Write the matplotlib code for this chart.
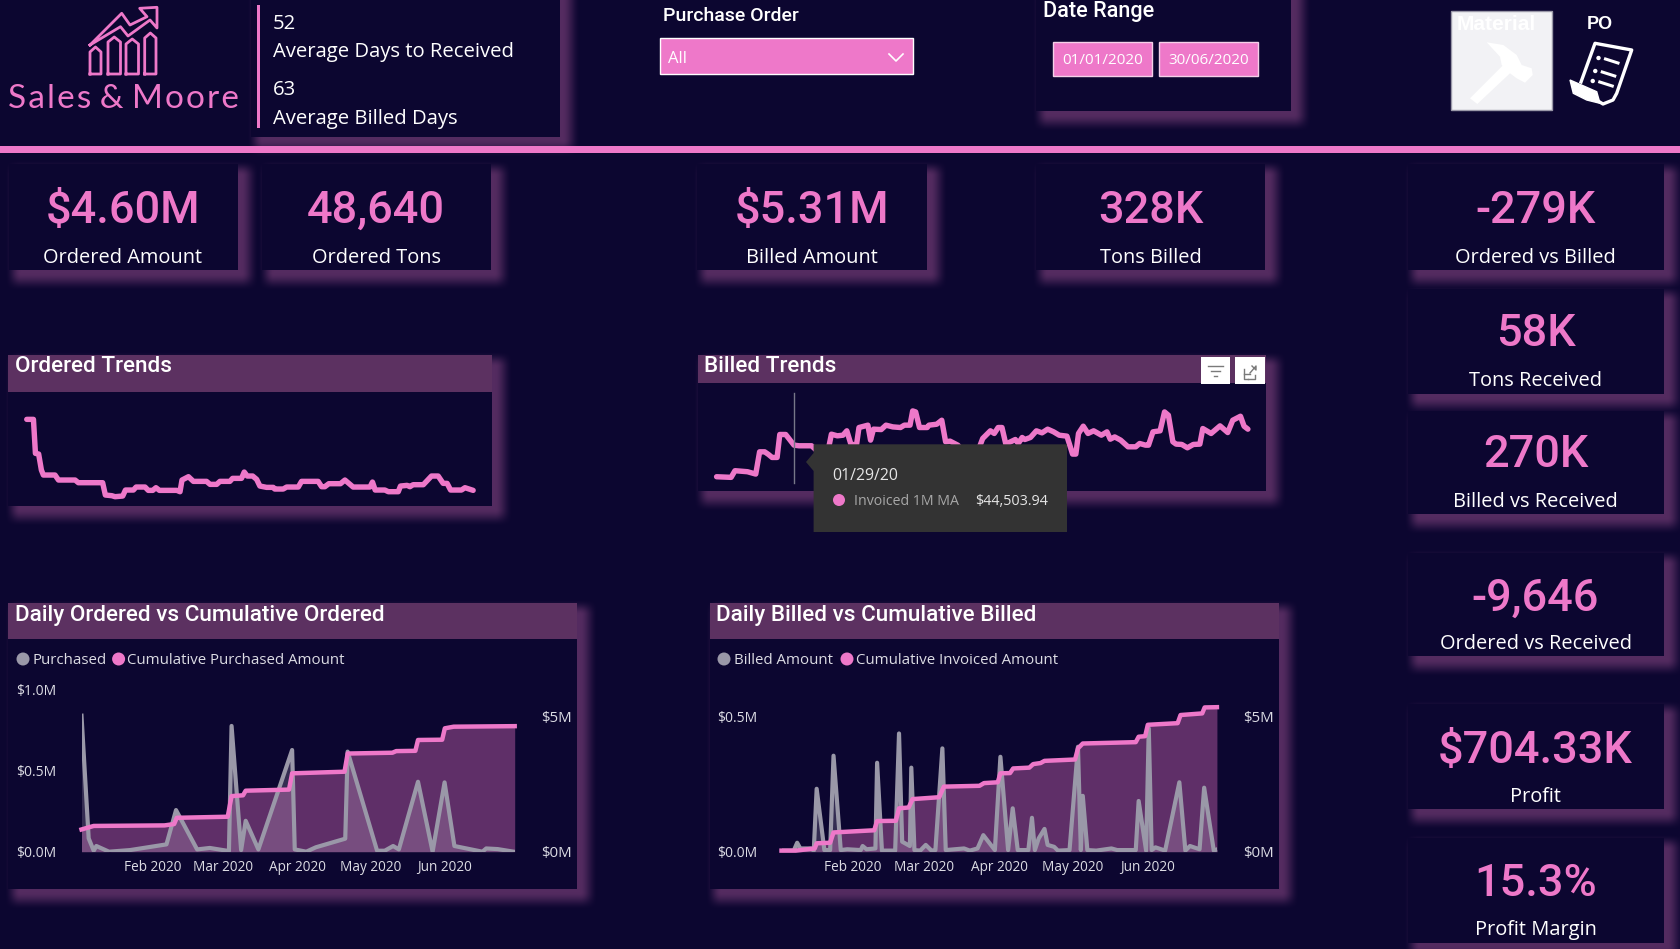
import numpy as np
import matplotlib
matplotlib.use("Agg")
import matplotlib.pyplot as plt
from matplotlib.patches import Polygon, Rectangle, Circle

W, H = 1680, 949
BG = "#0c0630"
PINK = "#ee78c9"
GREY = "#9a98a8"
BAR = "#5c3161"
SHADOW = np.array([0x54, 0x2b, 0x60]) / 255
HEAD_FONT = "Roboto"
BODY_FONT = "Open Sans"

# kpi cards
kpi_values = ["$4.60M", "48,640", "$5.31M", "328K", "-279K", "58K", "270K", "-9,646", "$704.33K", "15.3%"]
kpi_labels = ["Ordered Amount", "Ordered Tons", "Billed Amount", "Tons Billed", "Ordered vs Billed",
              "Tons Received", "Billed vs Received", "Ordered vs Received", "Profit", "Profit Margin"]

# 1M moving averages, $K by day of the period
ordered_ma_days = [0, 2.7, 3.5, 4.8, 5.9, 6.7, 11.4, 12.8, 19.5, 20.8, 30.6, 31.7, 34.3, 35.6, 38.7, 39.8, 43, 44.1,
                   47.7, 49, 50.8, 52.1, 53.5, 60.5, 61.8, 62.6, 65.2, 67.2, 72.5, 73.9, 76.6, 77.9, 81.9, 83, 86.6,
                   87.7, 88.9, 91.1, 92.7, 94, 96.7, 99.4, 100, 103.4, 104.8, 109.5, 110.8, 117.5, 118.9, 120.2,
                   121.8, 126.5, 128.3, 131.6, 138.4, 139.4, 140.5, 144.4, 145.8, 149.8, 150.7, 153.4, 154.5, 155.8,
                   159.9, 163.2, 165.9, 167.9, 169.5, 170.9, 175.3, 176.7, 180]
ordered_ma = [64.25, 64.25, 38.75, 38.25, 26.25, 22.5, 22.5, 18.75, 18.75, 16.75, 16.75, 7.5, 7, 6.25, 6.75, 11.25,
              11.25, 13.5, 13.5, 11, 11, 13, 11, 11, 10, 18.75, 21.25, 17.75, 17.75, 15.5, 15.5, 17.75, 17.75, 20,
              20, 24.75, 21.75, 21.75, 19.25, 14.25, 13.25, 13.25, 12, 12, 13.5, 13.5, 17.75, 17.75, 13.75, 13.75,
              16, 16, 18.75, 13.5, 13.5, 17.25, 11.25, 11.25, 10, 10, 14.25, 14.75, 13.75, 15.25, 15.25, 21.75,
              21.75, 16.25, 16.25, 11.25, 11.25, 13, 11]

billed_ma_days = [1.9, 6.8, 8.1, 12.3, 15.1, 16.4, 18.1, 19.4, 20.6, 22.3, 23.2, 25.2, 28, 29.7, 33.9, 35.5, 39.4,
                  40.6, 42.6, 44.5, 45.8, 47.1, 49, 49.9, 52.9, 53.8, 54.8, 57.4, 59, 61.3, 63.9, 65.2, 67.1, 68, 69,
                  70.3, 72.9, 73.5, 76.1, 77.8, 79.1, 80.6, 83.2, 85.8, 89.7, 91.6, 94.2, 95.5, 96.8, 98.1, 99.4,
                  102.6, 103.6, 104.9, 105.8, 107.7, 109.7, 111.6, 113.5, 115.5, 117.4, 120, 121.9, 123, 123.9, 125.5,
                  127.1, 129, 131.6, 133.5, 134.6, 136.1, 138.1, 140.6, 143.2, 144.5, 146.5, 147.5, 149, 151.4, 152.9,
                  154.2, 155.7, 156.8, 158.7, 160.6, 162.6, 164.8, 165.8, 168.6, 171.6, 174.2, 175.9, 178.5, 179.7, 181]
billed_ma = [4.2, 3.4, 11.9, 10.6, 7.6, 36, 36, 32.6, 28.8, 28.8, 58.1, 58.1, 44.5, 43.7, 43.7, 38.2, 36, 58.5, 56.4,
             57.2, 62.8, 46.6, 43.2, 67, 70, 50.9, 64.9, 64.4, 70, 67.8, 67, 70, 70, 88.2, 86.9, 67, 67, 70, 71.2,
             76.3, 48.8, 49.6, 44.5, 33.9, 33.9, 53, 62.8, 59.4, 67, 67, 45.8, 51.7, 46.6, 54.3, 51.7, 54.3, 62.8,
             60.2, 64.9, 61.5, 57.2, 56, 33.1, 33.1, 59.4, 68.7, 59.4, 62.8, 57.2, 61.5, 52.1, 55, 50.9, 42.4, 42.4,
             46.6, 44.5, 44.5, 61.5, 62.8, 86.9, 82.7, 48.8, 45.8, 45.4, 41.1, 45.4, 45.8, 65.7, 59.4, 69.1, 60.6,
             76.3, 81.4, 68.7, 64.9]
tooltip_day = 28

# daily and cumulative, $M by day of the period
month_ticks = [29.6, 59, 90.4, 120.8, 151.8]
month_labels = ["Feb 2020", "Mar 2020", "Apr 2020", "May 2020", "Jun 2020"]

purchased_days = [0, 3, 5.1, 6.2, 11.5, 20.3, 35.5, 39.5, 48.3, 53.6, 61.6, 62.7, 66.7, 68.6, 73.9, 88, 89.1, 93.9,
                  97.9, 110.2, 111.2, 123.5, 126.7, 130.2, 132.6, 140.6, 146.7, 151.7, 155.8, 167.5, 169.1, 173.9, 180.6]
purchased = [0.836, 0.082, 0.006, 0.035, 0, 0.01, 0.045, 0.256, 0.014, 0.023, 0.004, 0.773, 0.01, 0.19, 0.014, 0.625,
             0.014, 0, 0.027, 0.08, 0.615, 0.006, 0.006, 0.035, 0.014, 0.43, 0, 0.426, 0.035, 0, 0.02, 0.016, 0]
cum_purchased_days = [0, 5.1, 34.7, 38.7, 39.8, 61.1, 62.7, 67.5, 68.6, 86.7, 88, 109.9, 111.2, 129.9, 131.5, 139.5,
                      140.6, 150.7, 151.8, 155.5, 181]
cum_purchased = [0.82, 0.95, 0.97, 1.02, 1.25, 1.29, 2.05, 2.08, 2.25, 2.29, 2.89, 2.95, 3.62, 3.65, 3.71, 3.72, 4.12,
                 4.13, 4.55, 4.61, 4.63]

billed_days = [0, 5.1, 6.5, 7.8, 12.2, 13.4, 14.6, 17.8, 20.2, 21.6, 24.6, 27.3, 32.9, 33.7, 35.3, 39, 39.7, 41.7,
               47.2, 48.8, 50.1, 53.3, 53.9, 55.2, 57.6, 59.9, 62.3, 63.9, 66.8, 68.2, 75.8, 78.2, 81.4, 83.8, 88.6,
               90.9, 94.1, 96, 98.1, 102.5, 104, 105.2, 106.8, 109.2, 110.5, 113.2, 114.8, 119.6, 123.1, 124.3, 125.1,
               127, 130.7, 137, 139.4, 147.1, 148.3, 151.4, 152.5, 153.7, 155.3, 159.3, 165.2, 167.7, 169.6, 173.6,
               175.5, 179.5, 181]
billed = [0.004, 0.004, 0.033, 0.012, 0.012, 0.004, 0.232, 0.006, 0.006, 0.354, 0.006, 0.009, 0.006, 0.021, 0.009,
          0.012, 0.328, 0.004, 0.004, 0.436, 0.037, 0.021, 0.31, 0.006, 0.004, 0.025, 0.004, 0.006, 0.381, 0.006,
          0.012, 0.004, 0.012, 0.061, 0.006, 0.35, 0.006, 0.16, 0.006, 0.006, 0.125, 0.006, 0.049, 0.084, 0.025,
          0.018, 0.004, 0.006, 0.387, 0.006, 0.206, 0.006, 0.004, 0.012, 0.006, 0.006, 0.187, 0.004, 0.455, 0.006,
          0.016, 0.004, 0.256, 0.004, 0.021, 0.009, 0.236, 0.004, 0.009]
cum_billed_days = [0, 5.9, 13.8, 14.6, 20.2, 21.6, 38.5, 39.7, 47.5, 48.8, 52.8, 54.4, 65.5, 67.4, 82.2, 84.1, 89.8,
                   90.9, 94.9, 96.2, 102.9, 104.5, 107.6, 109.2, 121.9, 123.1, 125.1, 147.1, 148.3, 151, 152.1, 164.5,
                   165.7, 174.7, 175.7, 180.8]
cum_billed = [0.04, 0.04, 0.12, 0.31, 0.33, 0.71, 0.79, 1.13, 1.14, 1.6, 1.63, 1.94, 2.01, 2.4, 2.43, 2.53, 2.56, 2.89,
              2.9, 3.07, 3.1, 3.23, 3.27, 3.35, 3.4, 3.81, 3.99, 4.04, 4.24, 4.26, 4.68, 4.74, 5.04, 5.1, 5.32, 5.33]


def px_axes(fig, x0, y0, x1, y1, zorder):
    ax = fig.add_axes([x0 / W, 1 - y1 / H, (x1 - x0) / W, (y1 - y0) / H], zorder=zorder)
    ax.patch.set_alpha(0)
    for s in ax.spines.values():
        s.set_visible(False)
    return ax


def soft(t):
    t = np.clip(t, 0, 1)
    return t * t * (3 - 2 * t)


def shadow_layer(rects):
    xx = np.arange(W) + 0.5
    yy = np.arange(H) + 0.5
    cover = np.zeros((H, W))
    for x0, y0, x1, y1 in rects:
        cx = soft((xx - x0 + 4) / 16) * soft(((x1 + 21) - xx) / 18)
        cy = soft((yy - y0 + 4) / 16) * soft(((y1 + 21) - yy) / 18)
        cover = np.maximum(cover, np.outer(cy, cx))
    bg = np.array(matplotlib.colors.to_rgb(BG))
    return bg + (SHADOW - bg) * cover[..., None]


def trend_chart(fig, x0, y0, x1, y1, xlim, ylim, days, values):
    ax = px_axes(fig, x0, y0, x1, y1, 3)
    ax.plot(days, values, color=PINK, lw=3.9, solid_joinstyle="round", solid_capstyle="round")
    ax.set_xlim(*xlim)
    ax.set_ylim(*ylim)
    ax.set_xticks([])
    ax.set_yticks([])
    return ax


def combo_chart(fig, x0, x1, daily_days, daily, cum_days, cum, left_max, left_ticks, left_labels, left_pad, right_pad):
    y0, y1 = 689, 851.7
    ax_fill = px_axes(fig, x0, y0, x1, y1, 2)
    ax_daily = px_axes(fig, x0, y0, x1, y1, 3)
    ax_cum = px_axes(fig, x0, y0, x1, y1, 4)
    ax_fill.fill_between(cum_days, cum, 0, color=PINK, alpha=0.37, lw=0)
    ax_daily.fill_between(daily_days, daily, 0, color="#d8c8dc", alpha=0.2, lw=0)
    ax_daily.plot(daily_days, daily, color=GREY, lw=3, solid_joinstyle="round")
    ax_cum.plot(cum_days, cum, color=PINK, lw=3.2, solid_joinstyle="round", clip_on=False)
    for ax in (ax_fill, ax_daily, ax_cum):
        ax.set_xlim(0, 181)
    ax_fill.set_ylim(0, 6)
    ax_cum.set_ylim(0, 6)
    ax_daily.set_ylim(0, left_max)
    ax_fill.set_xticks([])
    ax_fill.set_yticks([])
    ax_cum.set_xticks([])

    ax_daily.set_xticks(month_ticks, month_labels)
    ax_daily.set_yticks(left_ticks, left_labels)
    ax_daily.tick_params(axis="x", length=0, pad=6, labelsize=9.8, labelcolor="#dcdce4")
    ax_daily.tick_params(axis="y", length=0, pad=left_pad, labelsize=10, labelcolor="#dcdce4")
    for t in ax_daily.get_yticklabels() + ax_daily.get_xticklabels():
        t.set_fontfamily(BODY_FONT)
    for t in ax_daily.get_yticklabels():
        t.set_ha("left")

    ax_cum.yaxis.tick_right()
    ax_cum.set_yticks([0, 5], ["$0M", "$5M"])
    ax_cum.tick_params(axis="y", length=0, pad=right_pad, labelsize=10.8, labelcolor="#dcdce4")
    for t in ax_cum.get_yticklabels():
        t.set_fontfamily(BODY_FONT)


def main():
    fig = plt.figure(figsize=(W / 100, H / 100), dpi=100, facecolor=BG)
    bg = fig.add_axes([0, 0, 1, 1], zorder=1)
    bg.set_xlim(0, W)
    bg.set_ylim(H, 0)
    bg.axis("off")

    # cards: left, top, right, bottom
    info_card = (251, -20, 559.5, 136.7)
    date_card = (1036, -20, 1291, 111)
    kpi_cards = [(9, 164, 238, 270), (262, 164, 491, 270), (697, 164, 927, 270), (1036, 164, 1265, 270),
                 (1408, 164, 1664, 270), (1408, 289, 1664, 394), (1408, 411, 1664, 514),
                 (1408, 553, 1664, 656), (1408, 704, 1664, 809), (1408, 838, 1664, 943)]
    ordered_panel = (8.4, 355, 492, 505.7)
    billed_panel = (697.6, 355, 1266, 491)
    combo_panels = [(8.4, 603, 577, 889), (709.5, 603, 1278.5, 889)]
    panels = [ordered_panel, billed_panel] + combo_panels
    rects = [info_card, date_card] + kpi_cards + panels

    bg.imshow(shadow_layer(rects), extent=(0, W, H, 0), aspect="auto", zorder=0)
    bg.set_xlim(0, W)
    bg.set_ylim(H, 0)
    for x0, y0, x1, y1 in rects:
        bg.add_patch(Rectangle((x0, y0), x1 - x0, y1 - y0, fc=BG, ec="none", zorder=1))

    # title bars
    bars = [(8.4, 355, 492, 391.7), (697.6, 355, 1266, 383), (8.4, 603, 577, 639), (709.5, 603, 1278.5, 639)]
    for x0, y0, x1, y1 in bars:
        bg.add_patch(Rectangle((x0, y0), x1 - x0, y1 - y0, fc=BAR, ec="none", zorder=2))
    head = dict(color="white", family=HEAD_FONT, weight="medium", fontsize=16.2, va="center", zorder=3)
    bg.text(15, 366.5, "Ordered Trends", **head)
    bg.text(704.5, 366.5, "Billed Trends", **head)
    bg.text(15, 615, "Daily Ordered vs Cumulative Ordered", **head)
    bg.text(716.5, 615, "Daily Billed vs Cumulative Billed", **head)

    # header rule
    bg.add_patch(Rectangle((0, 146), W, 7, fc=PINK, ec="none", zorder=4))

    # logo
    bar_tops = [(90, 101, 47), (108, 120.5, 37), (126, 138.5, 39), (144.7, 156, 33)]
    for x0, x1, top in bar_tops:
        xs = [x0, x0, (x0 + x1) / 2, x1, x1, x0]
        ys = [74, top + 5, top, top + 5, 74, 74]
        bg.plot(xs, ys, color=PINK, lw=2, zorder=3)
    arrow_x = [90, 121.7, 130, 147, 139.7, 157, 157, 150, 128, 120.5, 90]
    arrow_y = [45, 13.3, 25, 16.7, 8.3, 7.3, 28, 20, 36, 26.7, 45]
    bg.plot(arrow_x, arrow_y, color=PINK, lw=2, zorder=3)
    bg.text(123.5, 99, "\u200a".join("Sales") + " & " + "\u200a".join("Moore"),
            color=PINK, family="Lato", fontsize=24, ha="center", va="center", zorder=3)

    # info card
    bg.add_patch(Rectangle((257.3, 5), 2.2, 123, fc=PINK, ec="none", zorder=3))
    info = dict(color="white", family=BODY_FONT, va="center", fontsize=14.6, zorder=3)
    bg.text(273, 23.5, "52", **info)
    bg.text(273, 52, "Average Days to Received", **info)
    bg.text(273, 90, "63", **info)
    bg.text(273, 118.5, "Average Billed Days", **info)

    # slicers
    bg.text(663, 16, "Purchase Order", color="white", family=HEAD_FONT, weight="medium", fontsize=14, va="center", zorder=3)
    bg.add_patch(Rectangle((660, 37.5), 253, 36.5, fc=PINK, ec="white", lw=1, zorder=3))
    bg.text(667.5, 59, "All", color="white", family=BODY_FONT, fontsize=12, va="center", zorder=4)
    bg.plot([889, 896, 903], [54, 61, 54], color="white", lw=1.2, zorder=4)
    bg.text(1043, 11, "Date Range", color="white", family=HEAD_FONT, weight="medium", fontsize=15.6, va="center", zorder=3)
    for x0, label in [(1053, "01/01/2020"), (1159, "30/06/2020")]:
        bg.add_patch(Rectangle((x0, 42), 99, 34, fc=PINK, ec="#f3d0e8", lw=1, zorder=3))
        bg.text(x0 + 49.5, 60.5, label, color="white", family=BODY_FONT, fontsize=11,
                ha="center", va="center", zorder=4)

    # material button and PO icon
    bg.add_patch(Rectangle((1451, 11), 100.7, 99, fc="#f2f2f5", ec="#9a98a8", lw=1, zorder=3))
    bg.text(1496, 24, "Material", color="white", family="Liberation Sans", weight="bold", fontsize=15,
            ha="center", va="center", zorder=4)
    handle = [(1470, 98.3), (1477.3, 104), (1511.7, 71.7), (1503.3, 65)]
    hammer = [(1486.7, 42.3), (1503.3, 45), (1516.7, 55), (1521.7, 65), (1531.7, 68.3), (1532.7, 75), (1525, 82.7),
              (1516.7, 78.3), (1510, 73.3), (1501.7, 65), (1500, 56.7)]
    bg.add_patch(Polygon(handle, fc="white", ec="none", zorder=4))
    bg.add_patch(Polygon(hammer, fc="white", ec="none", zorder=4))
    bg.text(1600, 24, "PO", color="white", family="Liberation Sans", weight="bold", fontsize=13,
            ha="center", va="center", zorder=4)
    paper_x = [1581, 1595, 1631.7, 1616.7, 1613, 1603, 1598]
    paper_y = [82, 43.3, 50, 93.3, 100, 104, 101]
    bg.plot(paper_x, paper_y, color="white", lw=2.4, solid_joinstyle="round", zorder=4)
    fold = [(1570, 80), (1596.7, 91.7), (1600, 103.3), (1586.7, 100), (1573.3, 93.3)]
    bg.add_patch(Polygon(fold, fc="white", ec="white", lw=1, zorder=4))
    for y in (58, 71, 81):
        bg.add_patch(Circle((1598.5 - (y - 58) * 0.25, y), 2.2, fc="white", ec="none", zorder=4))
        bg.plot([1605.5 - (y - 58) * 0.25, 1618 - (y - 58) * 0.25], [y + 1, y + 5], color="white", lw=2.2, zorder=4)

    # kpi text
    kpi_centers = [123, 376, 812, 1151, 1535.5, 1535.5, 1535.5, 1535.5, 1535.5, 1535.5]
    value_y = [211, 211, 211, 211, 211, 334, 455, 599, 751, 884]
    label_y = [258, 258, 258, 258, 258, 381, 502, 644, 797, 930]
    for cx, vy, ly, value, label in zip(kpi_centers, value_y, label_y, kpi_values, kpi_labels):
        bg.text(cx, vy, value, color=PINK, family=HEAD_FONT, weight="medium", fontsize=32.5,
                ha="center", va="center", zorder=3)
        bg.text(cx, ly, label, color="white", family=BODY_FONT, fontsize=14.4, ha="center", va="center", zorder=3)

    # trend charts
    trend_chart(fig, 8.4, 391.7, 492, 505.7, (-7.4, 187.6), (-0.5, 85), ordered_ma_days, ordered_ma)
    billed_ax = trend_chart(fig, 697.6, 383, 1266, 491, (-4.5, 187.1), (-14, 123.8), billed_ma_days, billed_ma)
    billed_ax.axvline(tooltip_day, ymin=0.07, ymax=0.91, color="#777788", lw=1)

    # buttons on the billed trend
    top = fig.add_axes([0, 0, 1, 1], zorder=6)
    top.set_xlim(0, W)
    top.set_ylim(H, 0)
    top.axis("off")
    for x0, x1 in [(1201, 1230), (1235, 1265)]:
        top.add_patch(Rectangle((x0, 357), x1 - x0, 27, fc="white", ec="none"))
    for x0, x1, y in [(1208, 1223, 366), (1211, 1220, 371), (1214, 1217, 376)]:
        top.plot([x0, x1], [y, y], color="#7a7a7a", lw=1)
    top.plot([1244, 1244, 1248], [369, 379, 379], color="#7a7a7a", lw=1)
    top.plot([1248, 1255, 1255], [379, 379, 375], color="#7a7a7a", lw=1)
    top.plot([1244, 1250], [374, 374], color="#7a7a7a", lw=1)
    top.plot([1250, 1256, 1256, 1252], [373, 366, 370, 366], color="#7a7a7a", lw=1)

    # tooltip
    top.add_patch(Polygon([(813.6, 444.3), (1067, 444.3), (1067, 532), (813.6, 532), (813.6, 471), (806, 462),
                           (813.6, 453)], fc="#333333", ec="none"))
    top.text(832.7, 476, "01/29/20", color="#e6e6e6", family=BODY_FONT, fontsize=11.4, va="center")
    top.add_patch(Circle((839, 500), 6, fc=PINK, ec="none"))
    top.text(853.8, 501, "Invoiced 1M MA", color="#a8a8a8", family=BODY_FONT, fontsize=10.2, va="center")
    top.text(975, 501, "$44,503.94", color="#e6e6e6", family=BODY_FONT, fontsize=10.4, va="center")

    # combo charts
    combo_chart(fig, 81.5, 514.7, purchased_days, purchased, cum_purchased_days, cum_purchased,
                1.0, [0, 0.5, 1.0], ["$0.0M", "$0.5M", "$1.0M"], 47, 19)
    combo_chart(fig, 781.5, 1217.4, billed_days, billed, cum_billed_days, cum_billed,
                0.6, [0, 0.5], ["$0.0M", "$0.5M"], 46, 18.5)

    legend_items = [(23, 32.5, GREY, "Purchased"), (118.6, 127.4, PINK, "Cumulative Purchased Amount"),
                    (724, 733.7, GREY, "Billed Amount"), (847, 856, PINK, "Cumulative Invoiced Amount")]
    for dot_x, text_x, color, label in legend_items:
        bg.add_patch(Circle((dot_x, 659), 6.5, fc=color, ec="none", zorder=3))
        bg.text(text_x, 660, label, color="#dcdce4", family=BODY_FONT, fontsize=10.8, va="center", zorder=3)

    fig.savefig("out.png", dpi=100, facecolor=BG)


if __name__ == "__main__":
    main()
